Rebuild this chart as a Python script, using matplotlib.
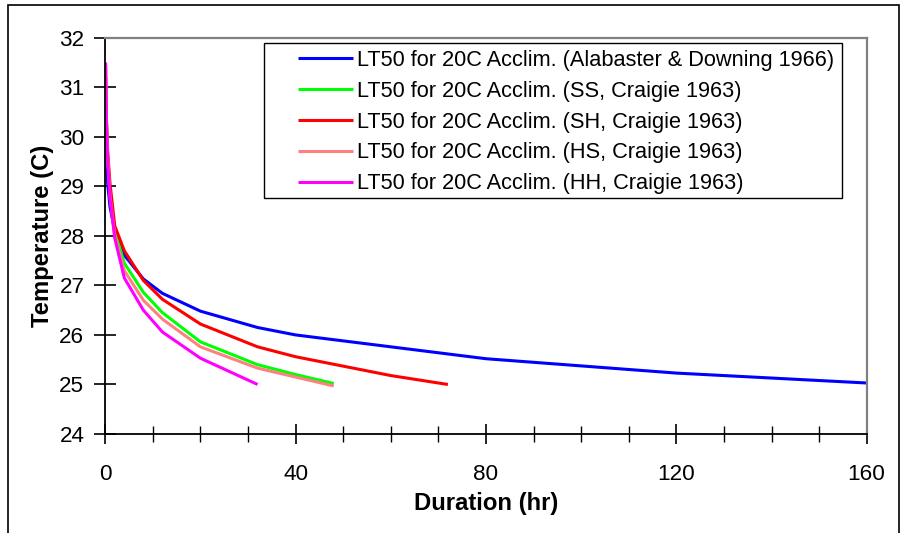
import matplotlib
matplotlib.use("Agg")
import matplotlib.pyplot as plt
from matplotlib.patches import Rectangle
from matplotlib.ticker import MultipleLocator

plt.rcParams['font.family'] = ['Liberation Sans', 'DejaVu Sans']

# Data
t_ad = [0.1, 0.25, 0.5, 1, 2, 4, 8, 12, 20, 32, 40, 80, 120, 160]
T_ad = [30.2, 29.55, 29.06, 28.58, 28.10, 27.61, 27.13, 26.84, 26.48, 26.15, 26.0, 25.52, 25.23, 25.03]

t_ss = [0.1, 0.25, 0.5, 1, 2, 4, 8, 12, 20, 32, 40, 48]
T_ss = [31.0, 30.3, 29.6, 28.85, 28.1, 27.45, 26.86, 26.45, 25.86, 25.4, 25.2, 25.02]

t_sh = [0.1, 0.25, 0.5, 1, 2, 4, 8, 12, 20, 32, 40, 60, 72]
T_sh = [31.2, 30.36, 29.71, 29.05, 28.2, 27.7, 27.1, 26.72, 26.22, 25.76, 25.56, 25.18, 25.0]

t_hs = [0.1, 0.25, 0.5, 1, 2, 4, 8, 12, 20, 32, 40, 48]
T_hs = [31.4, 30.3, 29.6, 28.8, 28.0, 27.3, 26.7, 26.32, 25.76, 25.33, 25.15, 24.97]

t_hh = [0.08, 0.25, 0.5, 1, 2, 4, 8, 12, 20, 32]
T_hh = [31.5, 30.2, 29.5, 28.75, 27.95, 27.15, 26.5, 26.06, 25.53, 25.0]

labels = [
    "LT50 for 20C Acclim. (Alabaster & Downing 1966)",
    "LT50 for 20C Acclim. (SS, Craigie 1963)",
    "LT50 for 20C Acclim. (SH, Craigie 1963)",
    "LT50 for 20C Acclim. (HS, Craigie 1963)",
    "LT50 for 20C Acclim. (HH, Craigie 1963)",
]
colors = ["#0000FF", "#00FF00", "#FF0000", "#FF8080", "#FF00FF"]

x_ticks = [0, 40, 80, 120, 160]
y_ticks = [24, 25, 26, 27, 28, 29, 30, 31, 32]

fig = plt.figure(figsize=(9.06, 5.33), dpi=100)
ax = fig.add_axes([0.1162, 0.1857, 0.8404, 0.7436])

series = [(t_ad, T_ad), (t_ss, T_ss), (t_sh, T_sh), (t_hs, T_hs), (t_hh, T_hh)]
for (t, T), lab, c in zip(series, labels, colors):
    ax.plot(t, T, color=c, lw=2.2, label=lab, solid_capstyle='butt')

ax.set_xlim(0, 160)
ax.set_ylim(24, 32)
ax.set_xticks(x_ticks)
ax.set_yticks(y_ticks)
ax.xaxis.set_minor_locator(MultipleLocator(10))

ax.tick_params(axis='x', which='major', direction='inout', length=15, width=1.2,
               labelsize=16.2, pad=14, colors='black')
ax.tick_params(axis='x', which='minor', direction='inout', length=11, width=1.0)
ax.tick_params(axis='y', which='major', direction='inout', length=16, width=1.2,
               labelsize=16.2, pad=7)

for s in ['left', 'bottom']:
    ax.spines[s].set_color('black')
    ax.spines[s].set_linewidth(1.3)
for s in ['top', 'right']:
    ax.spines[s].set_color('#808080')
    ax.spines[s].set_linewidth(1.6)

ax.set_xlabel("Duration (hr)", fontsize=17.2, fontweight='bold', labelpad=5)
ax.set_ylabel("Temperature (C)", fontsize=17.2, fontweight='bold', labelpad=4)

leg = ax.legend(loc='upper left', bbox_to_anchor=(0.2531, 0.969), borderaxespad=0,
                fontsize=15.7, frameon=False,
                handlelength=2.5, handletextpad=0.22, labelspacing=0.45,
                borderpad=0)

# legend frame
ax.add_patch(Rectangle((0.2084, 0.5955), 0.7591, 0.3911, transform=ax.transAxes,
                       fill=False, edgecolor='black', linewidth=1.0, zorder=5))

# figure border (open at bottom)
fig.patches.append(Rectangle((7.5 / 906, -0.05), (899 - 7.5) / 906, 1 - 5.5 / 533 + 0.05,
                             transform=fig.transFigure, fill=False,
                             edgecolor='black', linewidth=1.2))

fig.savefig("out.png", dpi=100)
